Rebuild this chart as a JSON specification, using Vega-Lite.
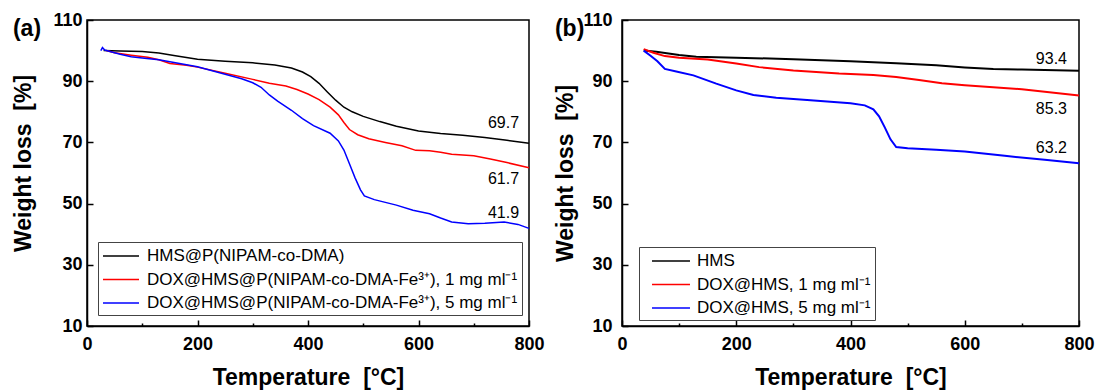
{
  "$schema": "https://vega.github.io/schema/vega-lite/v6.json",
  "padding": {"left": 12, "top": 10, "right": 5, "bottom": 5},
  "background": "white",
  "spacing": 9,
  "config": {
    "font": "Liberation Sans",
    "view": {"stroke": "black", "strokeWidth": 1.5},
    "axis": {
      "labelFont": "Liberation Sans", "labelFontSize": 18, "labelFontWeight": "bold", "labelColor": "black",
      "titleFont": "Liberation Sans", "titleFontSize": 23, "titleFontWeight": "bold", "titleColor": "black",
      "domainColor": "black", "domainWidth": 1.5, "tickColor": "black", "tickWidth": 1.5,
      "grid": false, "labelOverlap": false, "labelFlush": false
    },
    "legend": {
      "labelFont": "Liberation Sans", "labelFontSize": 17, "labelColor": "black",
      "symbolSize": 324, "symbolStrokeWidth": 1.5,
      "strokeColor": "#444", "fillColor": "white", "padding": 4, "rowPadding": 5.5, "title": null, "labelLimit": 500
    },
    "title": {"font": "Liberation Sans", "fontSize": 23, "fontWeight": "bold", "color": "black", "anchor": "start", "frame": "bounds", "baseline": "alphabetic", "offset": -30}
  },
  "datasets": {
    "a": [
      {"T": 30, "W": 100, "s": "HMS@P(NIPAM-co-DMA)"},
      {"T": 60, "W": 99.9, "s": "HMS@P(NIPAM-co-DMA)"},
      {"T": 100, "W": 99.7, "s": "HMS@P(NIPAM-co-DMA)"},
      {"T": 130, "W": 99.2, "s": "HMS@P(NIPAM-co-DMA)"},
      {"T": 160, "W": 98.3, "s": "HMS@P(NIPAM-co-DMA)"},
      {"T": 200, "W": 97.2, "s": "HMS@P(NIPAM-co-DMA)"},
      {"T": 250, "W": 96.5, "s": "HMS@P(NIPAM-co-DMA)"},
      {"T": 300, "W": 96, "s": "HMS@P(NIPAM-co-DMA)"},
      {"T": 340, "W": 95.3, "s": "HMS@P(NIPAM-co-DMA)"},
      {"T": 370, "W": 94.3, "s": "HMS@P(NIPAM-co-DMA)"},
      {"T": 390, "W": 93, "s": "HMS@P(NIPAM-co-DMA)"},
      {"T": 405, "W": 91.5, "s": "HMS@P(NIPAM-co-DMA)"},
      {"T": 420, "W": 89.3, "s": "HMS@P(NIPAM-co-DMA)"},
      {"T": 435, "W": 86.5, "s": "HMS@P(NIPAM-co-DMA)"},
      {"T": 450, "W": 83.8, "s": "HMS@P(NIPAM-co-DMA)"},
      {"T": 465, "W": 81.5, "s": "HMS@P(NIPAM-co-DMA)"},
      {"T": 480, "W": 80, "s": "HMS@P(NIPAM-co-DMA)"},
      {"T": 500, "W": 78.5, "s": "HMS@P(NIPAM-co-DMA)"},
      {"T": 530, "W": 76.8, "s": "HMS@P(NIPAM-co-DMA)"},
      {"T": 560, "W": 75.3, "s": "HMS@P(NIPAM-co-DMA)"},
      {"T": 600, "W": 73.7, "s": "HMS@P(NIPAM-co-DMA)"},
      {"T": 640, "W": 72.9, "s": "HMS@P(NIPAM-co-DMA)"},
      {"T": 680, "W": 72.3, "s": "HMS@P(NIPAM-co-DMA)"},
      {"T": 720, "W": 71.6, "s": "HMS@P(NIPAM-co-DMA)"},
      {"T": 760, "W": 70.7, "s": "HMS@P(NIPAM-co-DMA)"},
      {"T": 800, "W": 69.7, "s": "HMS@P(NIPAM-co-DMA)"},
      {"T": 35, "W": 100, "s": "DOX@HMS@P(NIPAM-co-DMA-Fe³⁺), 1 mg ml⁻¹"},
      {"T": 50, "W": 99.3, "s": "DOX@HMS@P(NIPAM-co-DMA-Fe³⁺), 1 mg ml⁻¹"},
      {"T": 80, "W": 98.5, "s": "DOX@HMS@P(NIPAM-co-DMA-Fe³⁺), 1 mg ml⁻¹"},
      {"T": 110, "W": 97.8, "s": "DOX@HMS@P(NIPAM-co-DMA-Fe³⁺), 1 mg ml⁻¹"},
      {"T": 130, "W": 97, "s": "DOX@HMS@P(NIPAM-co-DMA-Fe³⁺), 1 mg ml⁻¹"},
      {"T": 150, "W": 95.8, "s": "DOX@HMS@P(NIPAM-co-DMA-Fe³⁺), 1 mg ml⁻¹"},
      {"T": 180, "W": 95.2, "s": "DOX@HMS@P(NIPAM-co-DMA-Fe³⁺), 1 mg ml⁻¹"},
      {"T": 200, "W": 94.6, "s": "DOX@HMS@P(NIPAM-co-DMA-Fe³⁺), 1 mg ml⁻¹"},
      {"T": 250, "W": 92.6, "s": "DOX@HMS@P(NIPAM-co-DMA-Fe³⁺), 1 mg ml⁻¹"},
      {"T": 300, "W": 90.6, "s": "DOX@HMS@P(NIPAM-co-DMA-Fe³⁺), 1 mg ml⁻¹"},
      {"T": 330, "W": 89.3, "s": "DOX@HMS@P(NIPAM-co-DMA-Fe³⁺), 1 mg ml⁻¹"},
      {"T": 360, "W": 88.4, "s": "DOX@HMS@P(NIPAM-co-DMA-Fe³⁺), 1 mg ml⁻¹"},
      {"T": 380, "W": 87.3, "s": "DOX@HMS@P(NIPAM-co-DMA-Fe³⁺), 1 mg ml⁻¹"},
      {"T": 400, "W": 85.8, "s": "DOX@HMS@P(NIPAM-co-DMA-Fe³⁺), 1 mg ml⁻¹"},
      {"T": 420, "W": 84, "s": "DOX@HMS@P(NIPAM-co-DMA-Fe³⁺), 1 mg ml⁻¹"},
      {"T": 440, "W": 81.5, "s": "DOX@HMS@P(NIPAM-co-DMA-Fe³⁺), 1 mg ml⁻¹"},
      {"T": 455, "W": 79, "s": "DOX@HMS@P(NIPAM-co-DMA-Fe³⁺), 1 mg ml⁻¹"},
      {"T": 465, "W": 76.5, "s": "DOX@HMS@P(NIPAM-co-DMA-Fe³⁺), 1 mg ml⁻¹"},
      {"T": 475, "W": 74.2, "s": "DOX@HMS@P(NIPAM-co-DMA-Fe³⁺), 1 mg ml⁻¹"},
      {"T": 490, "W": 72.5, "s": "DOX@HMS@P(NIPAM-co-DMA-Fe³⁺), 1 mg ml⁻¹"},
      {"T": 510, "W": 71.2, "s": "DOX@HMS@P(NIPAM-co-DMA-Fe³⁺), 1 mg ml⁻¹"},
      {"T": 540, "W": 70, "s": "DOX@HMS@P(NIPAM-co-DMA-Fe³⁺), 1 mg ml⁻¹"},
      {"T": 570, "W": 68.9, "s": "DOX@HMS@P(NIPAM-co-DMA-Fe³⁺), 1 mg ml⁻¹"},
      {"T": 595, "W": 67.4, "s": "DOX@HMS@P(NIPAM-co-DMA-Fe³⁺), 1 mg ml⁻¹"},
      {"T": 620, "W": 67.3, "s": "DOX@HMS@P(NIPAM-co-DMA-Fe³⁺), 1 mg ml⁻¹"},
      {"T": 640, "W": 66.8, "s": "DOX@HMS@P(NIPAM-co-DMA-Fe³⁺), 1 mg ml⁻¹"},
      {"T": 660, "W": 66.1, "s": "DOX@HMS@P(NIPAM-co-DMA-Fe³⁺), 1 mg ml⁻¹"},
      {"T": 700, "W": 65.6, "s": "DOX@HMS@P(NIPAM-co-DMA-Fe³⁺), 1 mg ml⁻¹"},
      {"T": 730, "W": 64.6, "s": "DOX@HMS@P(NIPAM-co-DMA-Fe³⁺), 1 mg ml⁻¹"},
      {"T": 760, "W": 63.4, "s": "DOX@HMS@P(NIPAM-co-DMA-Fe³⁺), 1 mg ml⁻¹"},
      {"T": 800, "W": 61.7, "s": "DOX@HMS@P(NIPAM-co-DMA-Fe³⁺), 1 mg ml⁻¹"},
      {"T": 25, "W": 100, "s": "DOX@HMS@P(NIPAM-co-DMA-Fe³⁺), 5 mg ml⁻¹"},
      {"T": 28, "W": 101, "s": "DOX@HMS@P(NIPAM-co-DMA-Fe³⁺), 5 mg ml⁻¹"},
      {"T": 32, "W": 100.2, "s": "DOX@HMS@P(NIPAM-co-DMA-Fe³⁺), 5 mg ml⁻¹"},
      {"T": 40, "W": 99.8, "s": "DOX@HMS@P(NIPAM-co-DMA-Fe³⁺), 5 mg ml⁻¹"},
      {"T": 60, "W": 98.8, "s": "DOX@HMS@P(NIPAM-co-DMA-Fe³⁺), 5 mg ml⁻¹"},
      {"T": 80, "W": 98, "s": "DOX@HMS@P(NIPAM-co-DMA-Fe³⁺), 5 mg ml⁻¹"},
      {"T": 100, "W": 97.6, "s": "DOX@HMS@P(NIPAM-co-DMA-Fe³⁺), 5 mg ml⁻¹"},
      {"T": 130, "W": 97, "s": "DOX@HMS@P(NIPAM-co-DMA-Fe³⁺), 5 mg ml⁻¹"},
      {"T": 160, "W": 96, "s": "DOX@HMS@P(NIPAM-co-DMA-Fe³⁺), 5 mg ml⁻¹"},
      {"T": 200, "W": 94.7, "s": "DOX@HMS@P(NIPAM-co-DMA-Fe³⁺), 5 mg ml⁻¹"},
      {"T": 250, "W": 92.3, "s": "DOX@HMS@P(NIPAM-co-DMA-Fe³⁺), 5 mg ml⁻¹"},
      {"T": 280, "W": 90.8, "s": "DOX@HMS@P(NIPAM-co-DMA-Fe³⁺), 5 mg ml⁻¹"},
      {"T": 300, "W": 89.5, "s": "DOX@HMS@P(NIPAM-co-DMA-Fe³⁺), 5 mg ml⁻¹"},
      {"T": 315, "W": 88, "s": "DOX@HMS@P(NIPAM-co-DMA-Fe³⁺), 5 mg ml⁻¹"},
      {"T": 330, "W": 85.5, "s": "DOX@HMS@P(NIPAM-co-DMA-Fe³⁺), 5 mg ml⁻¹"},
      {"T": 345, "W": 83.5, "s": "DOX@HMS@P(NIPAM-co-DMA-Fe³⁺), 5 mg ml⁻¹"},
      {"T": 370, "W": 80.5, "s": "DOX@HMS@P(NIPAM-co-DMA-Fe³⁺), 5 mg ml⁻¹"},
      {"T": 390, "W": 77.8, "s": "DOX@HMS@P(NIPAM-co-DMA-Fe³⁺), 5 mg ml⁻¹"},
      {"T": 410, "W": 75.5, "s": "DOX@HMS@P(NIPAM-co-DMA-Fe³⁺), 5 mg ml⁻¹"},
      {"T": 440, "W": 73, "s": "DOX@HMS@P(NIPAM-co-DMA-Fe³⁺), 5 mg ml⁻¹"},
      {"T": 455, "W": 70.5, "s": "DOX@HMS@P(NIPAM-co-DMA-Fe³⁺), 5 mg ml⁻¹"},
      {"T": 465, "W": 67.5, "s": "DOX@HMS@P(NIPAM-co-DMA-Fe³⁺), 5 mg ml⁻¹"},
      {"T": 475, "W": 63, "s": "DOX@HMS@P(NIPAM-co-DMA-Fe³⁺), 5 mg ml⁻¹"},
      {"T": 485, "W": 58.5, "s": "DOX@HMS@P(NIPAM-co-DMA-Fe³⁺), 5 mg ml⁻¹"},
      {"T": 495, "W": 54.5, "s": "DOX@HMS@P(NIPAM-co-DMA-Fe³⁺), 5 mg ml⁻¹"},
      {"T": 502, "W": 52.5, "s": "DOX@HMS@P(NIPAM-co-DMA-Fe³⁺), 5 mg ml⁻¹"},
      {"T": 520, "W": 51.3, "s": "DOX@HMS@P(NIPAM-co-DMA-Fe³⁺), 5 mg ml⁻¹"},
      {"T": 560, "W": 49.5, "s": "DOX@HMS@P(NIPAM-co-DMA-Fe³⁺), 5 mg ml⁻¹"},
      {"T": 590, "W": 47.8, "s": "DOX@HMS@P(NIPAM-co-DMA-Fe³⁺), 5 mg ml⁻¹"},
      {"T": 620, "W": 46.7, "s": "DOX@HMS@P(NIPAM-co-DMA-Fe³⁺), 5 mg ml⁻¹"},
      {"T": 640, "W": 45.3, "s": "DOX@HMS@P(NIPAM-co-DMA-Fe³⁺), 5 mg ml⁻¹"},
      {"T": 660, "W": 44, "s": "DOX@HMS@P(NIPAM-co-DMA-Fe³⁺), 5 mg ml⁻¹"},
      {"T": 690, "W": 43.4, "s": "DOX@HMS@P(NIPAM-co-DMA-Fe³⁺), 5 mg ml⁻¹"},
      {"T": 720, "W": 43.6, "s": "DOX@HMS@P(NIPAM-co-DMA-Fe³⁺), 5 mg ml⁻¹"},
      {"T": 755, "W": 44, "s": "DOX@HMS@P(NIPAM-co-DMA-Fe³⁺), 5 mg ml⁻¹"},
      {"T": 780, "W": 43.2, "s": "DOX@HMS@P(NIPAM-co-DMA-Fe³⁺), 5 mg ml⁻¹"},
      {"T": 800, "W": 41.9, "s": "DOX@HMS@P(NIPAM-co-DMA-Fe³⁺), 5 mg ml⁻¹"}
    ],
    "b": [
      {"T": 38, "W": 100, "s": "HMS"},
      {"T": 60, "W": 99.6, "s": "HMS"},
      {"T": 100, "W": 98.6, "s": "HMS"},
      {"T": 130, "W": 98, "s": "HMS"},
      {"T": 200, "W": 97.7, "s": "HMS"},
      {"T": 300, "W": 97.2, "s": "HMS"},
      {"T": 400, "W": 96.5, "s": "HMS"},
      {"T": 480, "W": 95.9, "s": "HMS"},
      {"T": 550, "W": 95.2, "s": "HMS"},
      {"T": 600, "W": 94.5, "s": "HMS"},
      {"T": 650, "W": 94, "s": "HMS"},
      {"T": 700, "W": 93.8, "s": "HMS"},
      {"T": 800, "W": 93.4, "s": "HMS"},
      {"T": 38, "W": 100.5, "s": "DOX@HMS, 1 mg ml⁻¹"},
      {"T": 55, "W": 99.3, "s": "DOX@HMS, 1 mg ml⁻¹"},
      {"T": 75, "W": 98.2, "s": "DOX@HMS, 1 mg ml⁻¹"},
      {"T": 100, "W": 97.7, "s": "DOX@HMS, 1 mg ml⁻¹"},
      {"T": 150, "W": 97.1, "s": "DOX@HMS, 1 mg ml⁻¹"},
      {"T": 200, "W": 95.8, "s": "DOX@HMS, 1 mg ml⁻¹"},
      {"T": 240, "W": 94.6, "s": "DOX@HMS, 1 mg ml⁻¹"},
      {"T": 300, "W": 93.5, "s": "DOX@HMS, 1 mg ml⁻¹"},
      {"T": 380, "W": 92.5, "s": "DOX@HMS, 1 mg ml⁻¹"},
      {"T": 440, "W": 92, "s": "DOX@HMS, 1 mg ml⁻¹"},
      {"T": 480, "W": 91.4, "s": "DOX@HMS, 1 mg ml⁻¹"},
      {"T": 520, "W": 90.4, "s": "DOX@HMS, 1 mg ml⁻¹"},
      {"T": 560, "W": 89.3, "s": "DOX@HMS, 1 mg ml⁻¹"},
      {"T": 600, "W": 88.7, "s": "DOX@HMS, 1 mg ml⁻¹"},
      {"T": 700, "W": 87.4, "s": "DOX@HMS, 1 mg ml⁻¹"},
      {"T": 800, "W": 85.3, "s": "DOX@HMS, 1 mg ml⁻¹"},
      {"T": 38, "W": 100, "s": "DOX@HMS, 5 mg ml⁻¹"},
      {"T": 50, "W": 98.3, "s": "DOX@HMS, 5 mg ml⁻¹"},
      {"T": 62, "W": 96.5, "s": "DOX@HMS, 5 mg ml⁻¹"},
      {"T": 75, "W": 94, "s": "DOX@HMS, 5 mg ml⁻¹"},
      {"T": 95, "W": 93.2, "s": "DOX@HMS, 5 mg ml⁻¹"},
      {"T": 125, "W": 91.9, "s": "DOX@HMS, 5 mg ml⁻¹"},
      {"T": 165, "W": 89.2, "s": "DOX@HMS, 5 mg ml⁻¹"},
      {"T": 200, "W": 87, "s": "DOX@HMS, 5 mg ml⁻¹"},
      {"T": 230, "W": 85.5, "s": "DOX@HMS, 5 mg ml⁻¹"},
      {"T": 270, "W": 84.6, "s": "DOX@HMS, 5 mg ml⁻¹"},
      {"T": 330, "W": 83.8, "s": "DOX@HMS, 5 mg ml⁻¹"},
      {"T": 400, "W": 82.8, "s": "DOX@HMS, 5 mg ml⁻¹"},
      {"T": 425, "W": 82.1, "s": "DOX@HMS, 5 mg ml⁻¹"},
      {"T": 440, "W": 80.8, "s": "DOX@HMS, 5 mg ml⁻¹"},
      {"T": 450, "W": 78.5, "s": "DOX@HMS, 5 mg ml⁻¹"},
      {"T": 460, "W": 74.9, "s": "DOX@HMS, 5 mg ml⁻¹"},
      {"T": 470, "W": 71, "s": "DOX@HMS, 5 mg ml⁻¹"},
      {"T": 480, "W": 68.5, "s": "DOX@HMS, 5 mg ml⁻¹"},
      {"T": 500, "W": 68.1, "s": "DOX@HMS, 5 mg ml⁻¹"},
      {"T": 550, "W": 67.6, "s": "DOX@HMS, 5 mg ml⁻¹"},
      {"T": 600, "W": 67, "s": "DOX@HMS, 5 mg ml⁻¹"},
      {"T": 670, "W": 65.6, "s": "DOX@HMS, 5 mg ml⁻¹"},
      {"T": 740, "W": 64.3, "s": "DOX@HMS, 5 mg ml⁻¹"},
      {"T": 800, "W": 63.2, "s": "DOX@HMS, 5 mg ml⁻¹"}
    ],
    "la": [
      {"T": 782, "W": 76.3, "label": "69.7"},
      {"T": 782, "W": 58.0, "label": "61.7"},
      {"T": 782, "W": 46.9, "label": "41.9"}
    ],
    "lb": [
      {"T": 779, "W": 97.2, "label": "93.4"},
      {"T": 779, "W": 80.9, "label": "85.3"},
      {"T": 779, "W": 68.1, "label": "63.2"}
    ]
  },
  "hconcat": [
    {
      "width": 442, "height": 306,
      "title": {"text": "(a)"},
      "layer": [
        {
          "data": {"name": "a"},
          "mark": {"type": "line", "strokeWidth": 1.5},
          "encoding": {
            "x": {"field": "T", "type": "quantitative",
              "scale": {"domain": [0, 800], "nice": false, "zero": false},
              "axis": {"title": "Temperature\u00a0\u00a0[°C]", "values": [0, 100, 200, 300, 400, 500, 600, 700, 800],
                "labelExpr": "datum.value % 200 === 0 ? datum.label : ''",
                "tickSize": {"condition": {"test": "datum.value % 200 === 0", "value": -6}, "value": -3},
                "labelPadding": 15, "titlePadding": 10}},
            "y": {"field": "W", "type": "quantitative",
              "scale": {"domain": [10, 110], "nice": false, "zero": false},
              "axis": {"title": "Weight loss\u00a0\u00a0[%]", "values": [10, 20, 30, 40, 50, 60, 70, 80, 90, 100, 110],
                "labelExpr": "(datum.value - 10) % 20 === 0 ? datum.label : ''",
                "tickSize": {"condition": {"test": "(datum.value - 10) % 20 === 0", "value": -6}, "value": -3},
                "labelPadding": 11, "titlePadding": 17, "titleY": 143}},
            "color": {"field": "s", "type": "nominal",
              "scale": {"domain": ["HMS@P(NIPAM-co-DMA)", "DOX@HMS@P(NIPAM-co-DMA-Fe³⁺), 1 mg ml⁻¹", "DOX@HMS@P(NIPAM-co-DMA-Fe³⁺), 5 mg ml⁻¹"], "range": ["black", "red", "blue"]},
              "legend": {"orient": "none", "legendX": 11, "legendY": 222, "symbolType": "M-1,0H3", "labelOffset": 25}}
          }
        },
        {
          "data": {"name": "la"},
          "mark": {"type": "text", "align": "right", "baseline": "middle", "fontSize": 16, "font": "Liberation Sans", "color": "black"},
          "encoding": {
            "x": {"field": "T", "type": "quantitative"},
            "y": {"field": "W", "type": "quantitative"},
            "text": {"field": "label"}
          }
        }
      ]
    },
    {
      "width": 457, "height": 306,
      "title": {"text": "(b)"},
      "layer": [
        {
          "data": {"name": "b"},
          "mark": {"type": "line", "strokeWidth": 2},
          "encoding": {
            "x": {"field": "T", "type": "quantitative",
              "scale": {"domain": [0, 800], "nice": false, "zero": false},
              "axis": {"title": "Temperature\u00a0\u00a0[°C]", "values": [0, 100, 200, 300, 400, 500, 600, 700, 800],
                "labelExpr": "datum.value % 200 === 0 ? datum.label : ''",
                "tickSize": {"condition": {"test": "datum.value % 200 === 0", "value": -6}, "value": -3},
                "labelPadding": 15, "titlePadding": 10}},
            "y": {"field": "W", "type": "quantitative",
              "scale": {"domain": [10, 110], "nice": false, "zero": false},
              "axis": {"title": "Weight loss\u00a0\u00a0[%]", "values": [10, 20, 30, 40, 50, 60, 70, 80, 90, 100, 110],
                "labelExpr": "(datum.value - 10) % 20 === 0 ? datum.label : ''",
                "tickSize": {"condition": {"test": "(datum.value - 10) % 20 === 0", "value": -6}, "value": -3},
                "labelPadding": 16, "titlePadding": 5}},
            "color": {"field": "s", "type": "nominal",
              "scale": {"domain": ["HMS", "DOX@HMS, 1 mg ml⁻¹", "DOX@HMS, 5 mg ml⁻¹"], "range": ["black", "red", "blue"]},
              "legend": {"orient": "none", "legendX": 17, "legendY": 227, "symbolType": "M-0.11,0H4.11", "labelOffset": 34}}
          }
        },
        {
          "data": {"name": "lb"},
          "mark": {"type": "text", "align": "right", "baseline": "middle", "fontSize": 16, "font": "Liberation Sans", "color": "black"},
          "encoding": {
            "x": {"field": "T", "type": "quantitative"},
            "y": {"field": "W", "type": "quantitative"},
            "text": {"field": "label"}
          }
        }
      ]
    }
  ],
  "resolve": {"scale": {"color": "independent"}}
}
